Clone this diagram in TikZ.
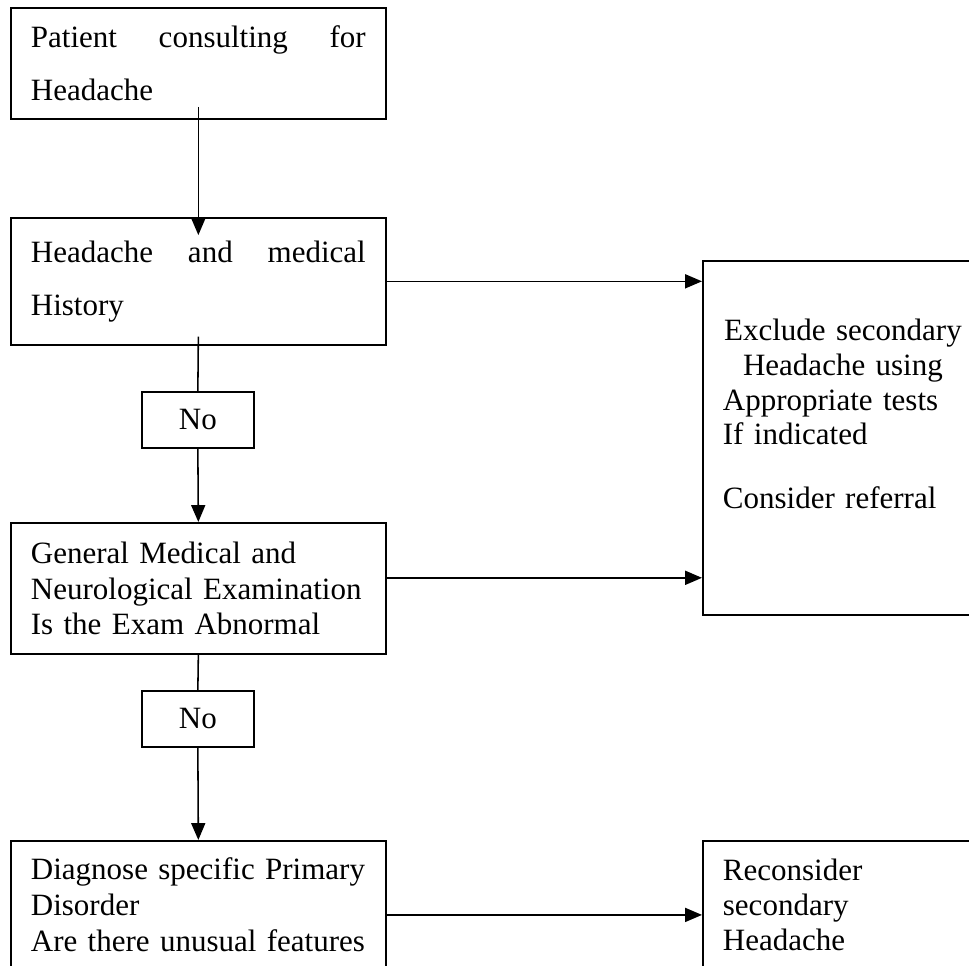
\documentclass[tikz,border=0pt]{standalone}
\usepackage{fontspec}
\setmainfont{Liberation Serif}
\usepackage{tikz}
\usetikzlibrary{arrows.meta, calc}

\begin{document}
\begin{tikzpicture}[x=0.387pt, y=0.387pt,
    box/.style={draw, line width=0.7pt, anchor=north west, align=left, inner xsep=7.74pt, text width=129.6pt, font=\fontsize{12}{13.9}\selectfont},
    sidebox/.style={box, text width=92.9pt, font=\fontsize{12}{13.5}\selectfont},
    nobox/.style={draw, line width=0.7pt, anchor=north west, minimum width=43.3pt, minimum height=21.7pt, inner sep=0pt, font=\fontsize{12}{13.9}\selectfont},
    arr/.style={-{Triangle[length=6.5pt, width=5.4pt]}, line width=0.6pt}]
    \useasboundingbox (0,0) rectangle (969,966);
    \node[box, minimum height=43pt] (patient) at (10,959) {\hbox to 129.6pt{Patient\hfill consulting\hfill for}\\[6.6pt]Headache};
    \node[box, minimum height=49.1pt] (history) at (10,749) {\hbox to 129.6pt{Headache\hfill and\hfill medical}\\[6.6pt]History};
    \node[nobox] (no1) at (141,575) {No};
    \node[box, minimum height=50.7pt] (exam) at (10,444) {General Medical and\\Neurological Examination\\Is the Exam Abnormal};
    \node[nobox] (no2) at (141,276) {No};
    \node[box, minimum height=49.5pt] (diagnose) at (10,126) {Diagnose specific Primary\\Disorder\\Are there unusual features};
    \node[sidebox, minimum height=137pt] (exclude) at (702,706) {\makebox[92.9pt][c]{Exclude secondary}\\\makebox[92.9pt][c]{Headache using}\\Appropriate tests\\If indicated\\[11.3pt]Consider referral\\[5.1pt]\mbox{}};
    \node[sidebox, minimum height=49.5pt] (reconsider) at (702,126) {Reconsider\\secondary\\Headache};
    \draw[arr] ([yshift=5pt]patient.south) -- ([yshift=-7pt]history.north);
    \draw[line width=0.6pt] ([yshift=3.5pt]history.south) -- (no1.north);
    \draw[arr] (no1.south) -- (exam.north);
    \draw[line width=0.6pt] (exam.south) -- (no2.north);
    \draw[arr] (no2.south) -- (diagnose.north);
    \draw[arr] (history.east) -- (history.east -| exclude.west);
    \draw[arr] ([yshift=4.1pt]exam.east) -- ([yshift=4.1pt]exam.east -| exclude.west);
    \draw[arr] ([yshift=-3.9pt]diagnose.east) -- ([yshift=-3.9pt]diagnose.east -| reconsider.west);
\end{tikzpicture}
\end{document}
